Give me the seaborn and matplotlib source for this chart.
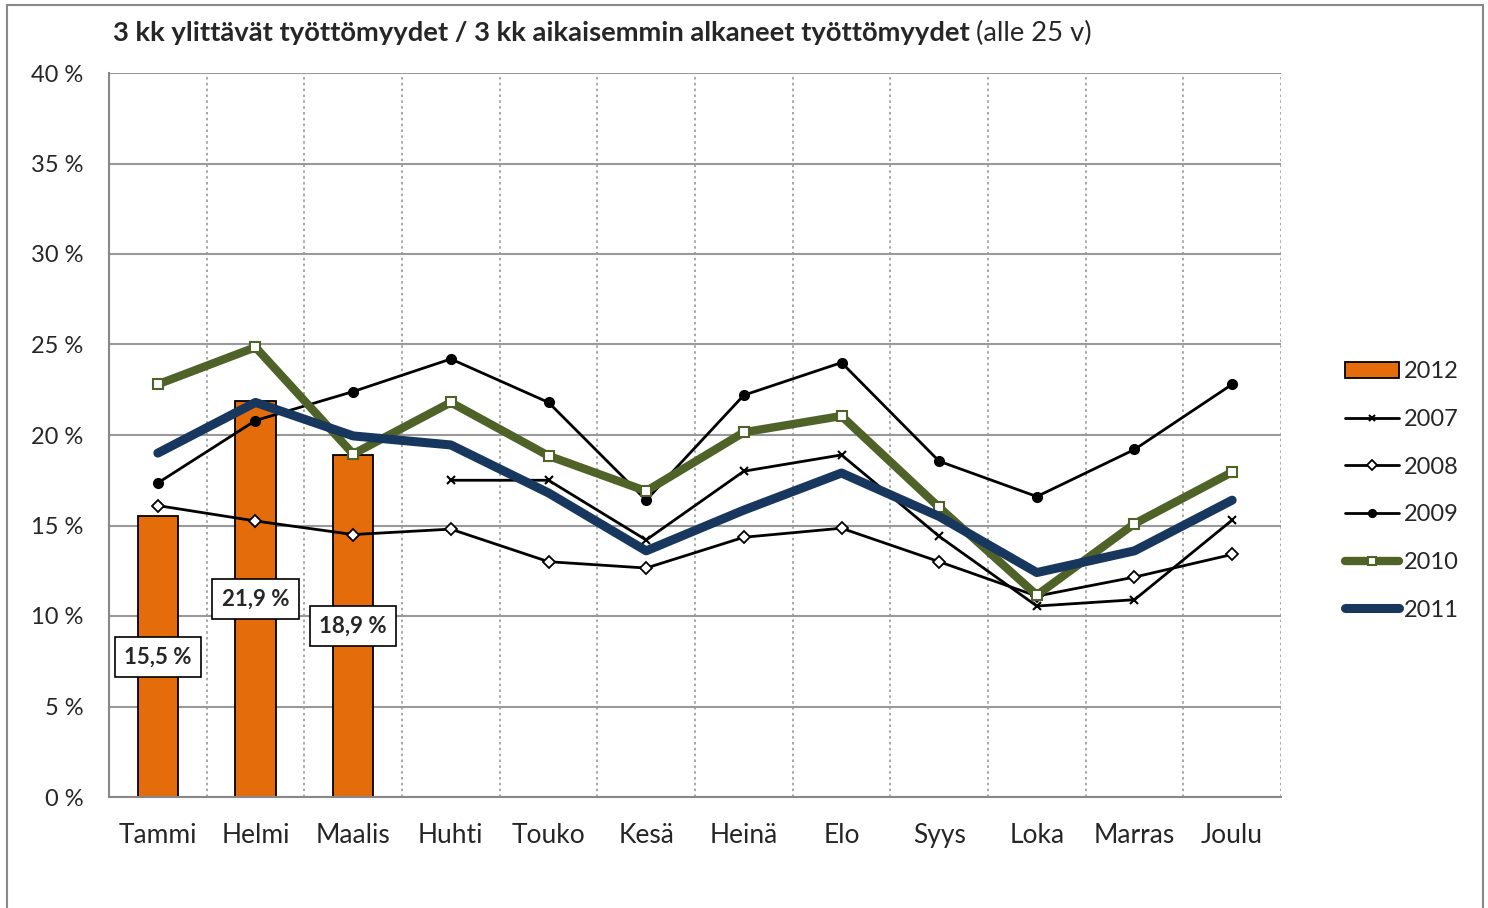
import numpy as np
import pandas as pd
import matplotlib.pyplot as plt
import seaborn as sns
from matplotlib.lines import Line2D
from matplotlib.patches import Patch, Rectangle

months = ["Tammi", "Helmi", "Maalis", "Huhti", "Touko", "Kesä",
          "Heinä", "Elo", "Syys", "Loka", "Marras", "Joulu"]
v2012 = [15.5, 21.9, 18.9]
v2007 = [np.nan, np.nan, np.nan, 17.5, 17.5, 14.2, 18.0, 18.9, 14.4, 10.55, 10.9, 15.3]
v2008 = [16.1, 15.25, 14.5, 14.8, 13.0, 12.65, 14.35, 14.85, 13.0, 11.1, 12.15, 13.4]
v2009 = [17.35, 20.8, 22.4, 24.2, 21.8, 16.4, 22.2, 24.0, 18.55, 16.6, 19.2, 22.8]
v2010 = [22.8, 24.85, 18.95, 21.8, 18.85, 16.9, 20.15, 21.05, 16.0, 11.15, 15.1, 17.95]
v2011 = [19.0, 21.8, 19.95, 19.45, 16.8, 13.6, 15.85, 17.9, 15.5, 12.4, 13.6, 16.4]

sns.set_style("white")
plt.rcParams['font.family'] = ['Lato', 'DejaVu Sans']

fig = plt.figure(figsize=(14.88, 9.08), dpi=100)
ax = fig.add_axes([109/1488, 1-797/908, (1281-109)/1488, (797-73)/908])

orange = "#E46C0A"
green = "#4F6228"
navy = "#17375E"

pos = np.arange(12)
bars = pd.DataFrame({"x": pos, "v": v2012 + [np.nan]*9})
sns.barplot(data=bars, x="x", y="v", color=orange, width=0.41,
            edgecolor="black", linewidth=1.3, saturation=1, ax=ax, zorder=2, native_scale=True)

styles = {
    "2007": dict(color="black", lw=2, marker="x", ms=6, mew=1.5, mec="black"),
    "2008": dict(color="black", lw=2, marker="D", ms=6, mfc="white", mec="black", mew=1.3),
    "2009": dict(color="black", lw=2, marker="o", ms=7, mfc="black", mec="black"),
    "2010": dict(color=green, lw=6, marker="s", ms=7, mfc="white", mec=green, mew=1.5),
    "2011": dict(color=navy, lw=6.5, marker=None),
}
series = {"2007": v2007, "2008": v2008, "2009": v2009, "2010": v2010, "2011": v2011}
for k, vals in series.items():
    s = styles[k]
    sns.lineplot(x=pos, y=vals, ax=ax, color=s["color"], linewidth=s["lw"],
                 marker=s.get("marker"), markersize=s.get("ms", 0),
                 markerfacecolor=s.get("mfc", s["color"]), markeredgecolor=s.get("mec", s["color"]),
                 markeredgewidth=s.get("mew", 1), zorder=3, legend=False)

# etiketit palkkien keskelle
for i, v in enumerate(v2012):
    ax.text(i, v/2, f"{v:.1f} %".replace(".", ","), ha="center", va="center",
            fontsize=16, fontweight="bold", zorder=5,
            bbox=dict(boxstyle="square,pad=0.42", fc="white", ec="black", lw=1.2))

ax.set_xlim(-0.5, 11.5)
ax.set_ylim(0, 40)
ax.set_xticks(pos)
ax.set_xticklabels(months, fontsize=19)
ax.set_xticks(np.arange(-0.5, 12, 1), minor=True)
ax.tick_params(axis="x", which="major", length=0, pad=19)
ax.tick_params(axis="x", which="minor", length=9, width=1.5, color="#888888", direction="out")
yt = np.arange(0, 41, 5)
ax.set_yticks(yt)
ax.set_yticklabels([f"{t} %" for t in yt], fontsize=17)
ax.tick_params(axis="y", length=5, width=1.5, color="#888888", direction="out", pad=13.5)
ax.grid(axis="y", which="major", color="#999999", lw=1.5, zorder=0)
ax.grid(axis="x", which="minor", color="#999999", lw=1.2, ls=(0, (1.5, 2)), zorder=0)
ax.set_axisbelow(True)
ax.set_xlabel("")
ax.set_ylabel("")
for sp in ["top", "right"]:
    ax.spines[sp].set_visible(False)
for sp in ["left", "bottom"]:
    ax.spines[sp].set_color("#888888")
    ax.spines[sp].set_linewidth(1.5)

fig.text(113/1488, 1-33/908, "3 kk ylittävät työttömyydet / 3 kk aikaisemmin alkaneet työttömyydet",
         fontsize=19.7, fontweight="bold", va="center", ha="left")
t = fig.texts[-1]
fig.canvas.draw()
bb = t.get_window_extent()
fig.text(bb.x1/1488 + 0.004, 1-33/908, "(alle 25 v)", fontsize=19.7, va="center", ha="left")

handles = [Patch(fc=orange, ec="black", lw=1.3)]
labels = ["2012"]
for k in ["2007", "2008", "2009", "2010", "2011"]:
    s = styles[k]
    handles.append(Line2D([], [], color=s["color"], lw=s["lw"] if k in ["2010", "2011"] else 2,
                          marker=s.get("marker"), ms=s.get("ms", 0) * 0.8,
                          mfc=s.get("mfc", s["color"]), mec=s.get("mec", s["color"]),
                          mew=s.get("mew", 1)))
    labels.append(k)
fig.legend(handles, labels, loc="center left", bbox_to_anchor=(1333/1488, 1-491/908),
           frameon=False, fontsize=17, handlelength=2.3, handletextpad=0.2,
           labelspacing=1.13, borderpad=0)

fig.add_artist(Rectangle((7/1488, -0.02), (1483-7)/1488, 1.02-5/908, transform=fig.transFigure,
                         fill=False, ec="#888888", lw=1.5))

fig.savefig("out.png", dpi=100)
